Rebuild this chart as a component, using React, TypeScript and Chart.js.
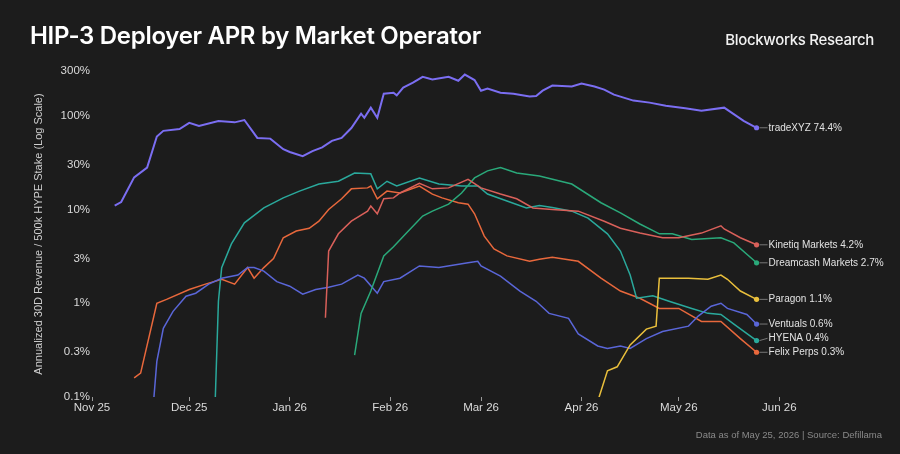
import React, { useEffect, useRef } from 'react'
import { Chart, registerables } from 'chart.js'

Chart.register(...registerables)

// x = days since Nov 1, 2025, y = annualized APR in %
const monthTickDays = [0, 30, 61, 92, 120, 151, 181, 212]
const monthTickLabels = ['Nov 25', 'Dec 25', 'Jan 26', 'Feb 26', 'Mar 26', 'Apr 26', 'May 26', 'Jun 26']
const aprTicks = [0.1, 0.3, 1, 3, 10, 30, 100, 300]

const tradeXyzDays = [7, 9, 13, 17, 20, 22, 27, 30, 33, 39, 44, 47, 51, 55, 59, 61, 65, 68, 71, 74, 77, 80, 83, 84, 86, 88, 90, 93, 94, 96, 99, 102, 105, 110, 113, 115, 118, 120, 122, 126, 130, 135, 137, 139, 142, 148, 151, 155, 158, 161, 167, 172, 177, 183, 188, 195, 201, 205]
const tradeXyzApr = [11, 12, 22, 28, 60, 69, 72, 84, 78, 88, 85, 90, 58, 57, 44, 41, 37, 42, 46, 54, 58, 74, 105, 95, 122, 95, 172, 176, 165, 200, 225, 260, 243, 260, 236, 275, 240, 185, 195, 176, 172, 160, 162, 185, 210, 205, 220, 205, 190, 168, 145, 138, 128, 120, 113, 122, 88, 74.4]

const kinetiqDays = [72, 73, 76, 80, 85, 86, 88, 90, 93, 95, 101, 105, 110, 116, 120, 126, 131, 136, 142, 150, 158, 163, 169, 176, 181, 188, 194, 195, 200, 205]
const kinetiqApr = [0.7, 3.6, 5.5, 7.5, 9.6, 10.9, 9, 13, 13.3, 15, 19, 16.6, 17, 21, 17, 14.6, 13, 10.4, 10, 9.6, 7.5, 6.3, 5.6, 5, 5, 5.6, 6.7, 6.2, 5, 4.2]

const dreamcashDays = [81, 83, 86, 90, 93, 97, 102, 105, 110, 114, 118, 122, 126, 131, 138, 148, 157, 163, 169, 175, 179, 185, 194, 198, 205]
const dreamcashApr = [0.28, 0.78, 1.35, 3.2, 4, 5.6, 8.5, 9.6, 11.4, 15, 21.7, 25.8, 28, 24.5, 22.8, 18.7, 11.8, 9.2, 7, 5.5, 5.5, 4.8, 5, 4.4, 2.7]

const paragonDays = [156, 159, 162, 166, 171, 174, 175, 184, 190, 194, 196, 200, 205]
const paragonApr = [0.09, 0.19, 0.21, 0.36, 0.53, 0.57, 1.85, 1.85, 1.8, 2, 1.8, 1.35, 1.1]

const ventualsDays = [19, 20, 22, 25, 29, 32, 36, 40, 45, 48, 50, 53, 57, 61, 65, 69, 73, 77, 82, 84, 88, 90, 95, 101, 107, 116, 119, 120, 126, 132, 137, 141, 147, 150, 156, 159, 163, 166, 171, 176, 184, 187, 191, 194, 196, 202, 205]
const ventualsApr = [0.09, 0.24, 0.54, 0.82, 1.19, 1.28, 1.6, 1.85, 2, 2.4, 2.4, 2.2, 1.7, 1.52, 1.25, 1.4, 1.48, 1.6, 2, 1.85, 1.28, 1.7, 1.85, 2.5, 2.4, 2.7, 2.8, 2.5, 1.95, 1.35, 1.05, 0.78, 0.69, 0.47, 0.35, 0.33, 0.35, 0.33, 0.42, 0.5, 0.57, 0.73, 0.93, 1, 0.88, 0.76, 0.6]

const hyenaDays = [38, 39, 40, 43, 47, 53, 59, 64, 70, 76, 81, 86, 88, 91, 94, 101, 107, 114, 119, 122, 128, 134, 138, 142, 148, 153, 159, 163, 166, 168, 173, 178, 185, 190, 194, 198, 205]
const hyenaApr = [0.09, 1.05, 2.4, 4.3, 7.2, 10.4, 13.3, 15.7, 18.7, 20, 24.5, 24, 16.6, 20, 17.8, 21.7, 18.7, 17.8, 17.8, 14.6, 12.3, 10.4, 11, 10.5, 9.6, 8.1, 5.5, 3.6, 2, 1.13, 1.2, 1.05, 0.88, 0.78, 0.76, 0.6, 0.4]

const felixDays = [13, 15, 20, 23, 30, 35, 40, 44, 48, 50, 53, 56, 59, 63, 67, 70, 73, 77, 80, 85, 86, 88, 91, 95, 101, 105, 108, 113, 116, 118, 121, 124, 128, 135, 138, 142, 150, 157, 163, 169, 175, 181, 188, 194, 200, 205]
const felixApr = [0.16, 0.18, 1, 1.1, 1.4, 1.6, 1.8, 1.6, 2.4, 1.85, 2.4, 3, 5, 5.9, 6.3, 7.5, 10, 13, 16.6, 17, 17.8, 13, 15.7, 15, 17.8, 14.6, 13.3, 11.8, 11.4, 9, 5.2, 3.8, 3.2, 2.8, 2.95, 3.1, 2.8, 1.85, 1.35, 1.13, 0.88, 0.88, 0.64, 0.64, 0.42, 0.3]

const series = [
  { name: 'tradeXYZ', color: '#7b6ef2', width: 2, days: tradeXyzDays, apr: tradeXyzApr },
  { name: 'Kinetiq Markets', color: '#d9605a', width: 1.5, days: kinetiqDays, apr: kinetiqApr },
  { name: 'Dreamcash Markets', color: '#2aa97a', width: 1.5, days: dreamcashDays, apr: dreamcashApr },
  { name: 'Paragon', color: '#e9bf3c', width: 1.5, days: paragonDays, apr: paragonApr },
  { name: 'Ventuals', color: '#5a66d8', width: 1.5, days: ventualsDays, apr: ventualsApr },
  { name: 'HYENA', color: '#2aa99c', width: 1.5, days: hyenaDays, apr: hyenaApr },
  { name: 'Felix Perps', color: '#e8683c', width: 1.5, days: felixDays, apr: felixApr },
]

const TITLE_FONT = 'Inter, "Liberation Sans", sans-serif'
const FONT = '"Liberation Sans", Arial, sans-serif'

const endLabels = {
  id: 'endLabels',
  afterDatasetsDraw(chart: any) {
    const { ctx } = chart
    const items = chart.data.datasets.map((ds: any, i: number) => {
      const meta = chart.getDatasetMeta(i)
      const pt = meta.data[meta.data.length - 1]
      const last = ds.data[ds.data.length - 1].y
      return { x: pt.x, y: pt.y, ly: pt.y, color: ds.borderColor, text: `${ds.label} ${last}%` }
    })
    // push overlapping labels upward, starting from the bottom one
    const sorted = [...items].sort((a: any, b: any) => a.y - b.y)
    for (let i = sorted.length - 2; i >= 0; i--) {
      sorted[i].ly = Math.min(sorted[i].ly, sorted[i + 1].ly - 14)
    }
    ctx.save()
    ctx.font = `10px ${FONT}`
    ctx.textBaseline = 'middle'
    items.forEach((it: any) => {
      ctx.strokeStyle = '#777777'
      ctx.lineWidth = 1
      ctx.beginPath()
      ctx.moveTo(it.x + 3, it.y)
      ctx.lineTo(it.x + 11, it.ly)
      ctx.stroke()
      ctx.fillStyle = it.color
      ctx.beginPath()
      ctx.arc(it.x, it.y, 2.6, 0, Math.PI * 2)
      ctx.fill()
      ctx.fillStyle = '#e2e2e2'
      ctx.fillText(it.text, it.x + 12, it.ly)
    })
    ctx.restore()
  },
}

const AprChart = () => {
  const ctx = useRef<HTMLCanvasElement | null>(null)

  useEffect(() => {
    let theChart: Chart | null = null
    if (ctx.current !== null) {
      theChart = new Chart(ctx.current, {
        type: 'line',
        data: {
          datasets: series.map((s) => ({
            label: s.name,
            data: s.days.map((d, i) => ({ x: d, y: s.apr[i] })),
            borderColor: s.color,
            backgroundColor: s.color,
            borderWidth: s.width,
            pointRadius: 0,
            tension: 0,
          })),
        },
        options: {
          animation: false,
          responsive: false,
          layout: { padding: { top: 71, right: 111, bottom: 27, left: 0 } },
          plugins: {
            legend: { display: false },
            tooltip: { enabled: false },
          },
          scales: {
            x: {
              type: 'linear',
              min: 0,
              max: 215,
              afterBuildTicks: (scale: any) => {
                scale.ticks = monthTickDays.map((v) => ({ value: v }))
              },
              afterFit: (scale: any) => {
                scale.height = 30
              },
              ticks: {
                callback: (v: any) => monthTickLabels[monthTickDays.indexOf(v)] ?? '',
                color: '#dadada',
                font: { family: FONT, size: 11.5 },
                maxRotation: 0,
                autoSkip: false,
                padding: 0,
              },
              grid: {
                display: true,
                drawOnChartArea: false,
                drawTicks: true,
                tickLength: 4,
                tickColor: '#9a9a9a',
              },
              border: { display: false },
            },
            y: {
              type: 'logarithmic',
              min: 0.1,
              max: 300,
              afterBuildTicks: (scale: any) => {
                scale.ticks = aprTicks.map((v) => ({ value: v }))
              },
              afterFit: (scale: any) => {
                scale.width = 92
              },
              ticks: {
                callback: (v: any) => `${v}%`,
                color: '#dadada',
                font: { family: FONT, size: 11.5 },
                padding: 2,
              },
              grid: { display: false, drawTicks: false, tickLength: 0 },
              border: { display: false },
              title: {
                display: true,
                text: 'Annualized 30D Revenue / 500k HYPE Stake (Log Scale)',
                color: '#cfcfcf',
                font: { family: FONT, size: 11 },
                padding: { top: 32, bottom: 0 },
              },
            },
          },
        },
        plugins: [endLabels],
      })
    }
    return () => {
      if (theChart) {
        theChart.destroy()
      }
    }
  }, [])

  return <canvas ref={ctx} width={900} height={454} style={{ display: 'block' }}></canvas>
}

const App = () => {
  return (
    <div
      style={{
        position: 'fixed',
        left: 0,
        top: 0,
        width: 900,
        height: 454,
        background: '#1c1c1c',
        fontFamily: TITLE_FONT,
        overflow: 'hidden',
      }}
    >
      <AprChart />
      <div
        style={{
          position: 'absolute',
          left: 30,
          top: 21,
          fontSize: 24,
          fontWeight: 600,
          letterSpacing: -0.3,
          color: '#ffffff',
          whiteSpace: 'nowrap',
        }}
      >
        HIP-3 Deployer APR by Market Operator
      </div>
      <div
        style={{
          position: 'absolute',
          right: 26,
          top: 30,
          fontSize: 15,
          fontWeight: 500,
          letterSpacing: -0.3,
          color: '#f2f2f2',
          whiteSpace: 'nowrap',
        }}
      >
        Blockworks Research
      </div>
      <div
        style={{
          position: 'absolute',
          right: 18,
          top: 429,
          fontSize: 9.5,
          fontFamily: FONT,
          color: '#8a8a8a',
          whiteSpace: 'nowrap',
        }}
      >
        Data as of May 25, 2026 | Source: Defillama
      </div>
    </div>
  )
}

export default App
